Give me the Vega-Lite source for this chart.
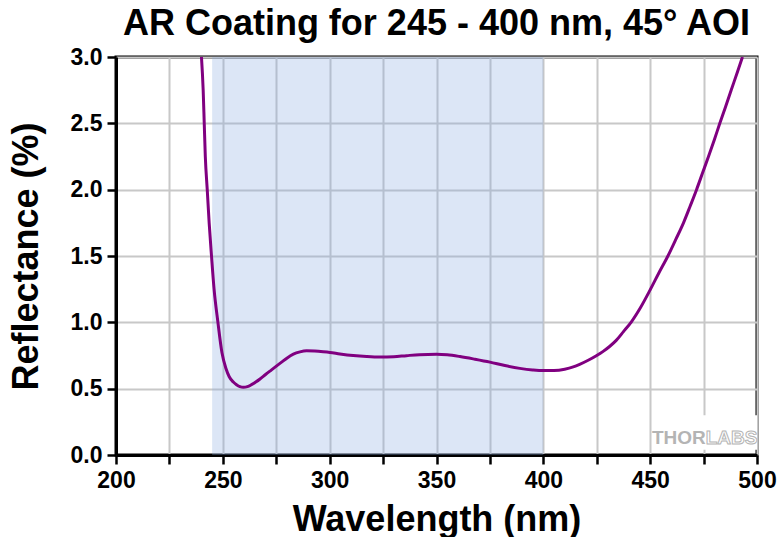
{
  "$schema": "https://vega.github.io/schema/vega-lite/v6.json",
  "width": 641,
  "height": 398,
  "autosize": {"type": "none"},
  "padding": {"left": 116, "top": 57, "right": 23, "bottom": 82},
  "background": "white",
  "title": {
    "text": "AR Coating for 245 - 400 nm, 45° AOI",
    "font": "Liberation Sans",
    "fontSize": 36,
    "fontWeight": "bold",
    "color": "black",
    "anchor": "middle",
    "frame": "group",
    "offset": 3
  },
  "config": {
    "view": {"stroke": "black", "strokeWidth": 3},
    "axis": {
      "grid": true,
      "gridColor": "#c8c8c8",
      "gridWidth": 2,
      "domainColor": "black",
      "domainWidth": 3,
      "tickColor": "black",
      "tickWidth": 2.5,
      "tickSize": 9,
      "labelFont": "Liberation Sans",
      "labelFontSize": 23,
      "labelFontWeight": "bold",
      "labelColor": "black",
      "labelFlush": false,
      "labelOverlap": false,
      "titleFont": "Liberation Sans",
      "titleFontSize": 36,
      "titleFontWeight": "bold",
      "titleColor": "black"
    }
  },
  "datasets": {
    "curve": [
      {"wl": 240.0, "r": 3.0},
      {"wl": 240.8, "r": 2.75},
      {"wl": 241.3, "r": 2.5},
      {"wl": 241.8, "r": 2.25},
      {"wl": 242.7, "r": 2.0},
      {"wl": 243.6, "r": 1.75},
      {"wl": 244.7, "r": 1.5},
      {"wl": 245.9, "r": 1.25},
      {"wl": 247.7, "r": 1.0},
      {"wl": 249.6, "r": 0.77},
      {"wl": 251.5, "r": 0.65},
      {"wl": 253.0, "r": 0.59},
      {"wl": 254.9, "r": 0.55},
      {"wl": 256.4, "r": 0.53},
      {"wl": 258.0, "r": 0.515},
      {"wl": 259.6, "r": 0.51},
      {"wl": 261.5, "r": 0.515},
      {"wl": 263.4, "r": 0.53},
      {"wl": 265.4, "r": 0.55},
      {"wl": 267.4, "r": 0.573},
      {"wl": 270.0, "r": 0.607},
      {"wl": 272.8, "r": 0.642},
      {"wl": 275.2, "r": 0.672},
      {"wl": 277.5, "r": 0.70},
      {"wl": 279.8, "r": 0.728},
      {"wl": 283.0, "r": 0.76},
      {"wl": 286.1, "r": 0.777},
      {"wl": 289.2, "r": 0.785},
      {"wl": 293.0, "r": 0.783},
      {"wl": 297.0, "r": 0.778},
      {"wl": 300.1, "r": 0.773},
      {"wl": 304.8, "r": 0.762},
      {"wl": 311.0, "r": 0.75},
      {"wl": 317.3, "r": 0.742},
      {"wl": 323.5, "r": 0.738},
      {"wl": 330.0, "r": 0.741},
      {"wl": 336.0, "r": 0.749},
      {"wl": 342.0, "r": 0.756},
      {"wl": 350.0, "r": 0.759},
      {"wl": 355.0, "r": 0.755},
      {"wl": 361.0, "r": 0.742},
      {"wl": 368.0, "r": 0.722},
      {"wl": 375.0, "r": 0.70},
      {"wl": 382.0, "r": 0.674},
      {"wl": 389.0, "r": 0.653},
      {"wl": 395.0, "r": 0.641},
      {"wl": 400.0, "r": 0.636},
      {"wl": 405.0, "r": 0.637},
      {"wl": 410.0, "r": 0.647},
      {"wl": 414.0, "r": 0.664},
      {"wl": 417.0, "r": 0.683},
      {"wl": 421.0, "r": 0.714},
      {"wl": 425.0, "r": 0.75},
      {"wl": 428.0, "r": 0.781},
      {"wl": 431.0, "r": 0.818},
      {"wl": 434.0, "r": 0.862},
      {"wl": 437.5, "r": 0.93},
      {"wl": 441.3, "r": 1.006},
      {"wl": 445.5, "r": 1.112},
      {"wl": 450.0, "r": 1.245},
      {"wl": 454.0, "r": 1.37},
      {"wl": 458.3, "r": 1.5},
      {"wl": 462.0, "r": 1.625},
      {"wl": 465.6, "r": 1.75},
      {"wl": 468.7, "r": 1.875},
      {"wl": 471.7, "r": 2.0},
      {"wl": 474.5, "r": 2.125},
      {"wl": 477.3, "r": 2.25},
      {"wl": 480.0, "r": 2.375},
      {"wl": 482.6, "r": 2.5},
      {"wl": 485.3, "r": 2.625},
      {"wl": 487.9, "r": 2.75},
      {"wl": 490.6, "r": 2.875},
      {"wl": 493.2, "r": 3.0}
    ],
    "band": [{"start": 245, "end": 400}],
    "logobox": [{"x1": 452, "x2": 500, "y1": 0.04, "y2": 0.30}],
    "logo1": [{"wl": 476, "r": 0.085, "t": "THOR"}],
    "logo2": [{"wl": 476, "r": 0.085, "t": "LABS"}]
  },
  "layer": [
    {
      "data": {"name": "band"},
      "mark": {"type": "rect", "color": "#8aace1", "opacity": 0.3},
      "encoding": {
        "x": {
          "field": "start",
          "type": "quantitative",
          "scale": {"domain": [200, 500], "nice": false, "zero": false},
          "axis": {
            "title": "Wavelength (nm)",
            "values": [200, 225, 250, 275, 300, 325, 350, 375, 400, 425, 450, 475, 500],
            "format": "d",
            "labelExpr": "datum.value % 50 === 0 ? datum.label : ''",
            "labelPadding": 5,
            "titlePadding": 10,
            "encode": {"ticks": {"update": {"y2": {"signal": "datum.value % 50 === 0 ? 9 : 5"}}}}
          }
        },
        "x2": {"field": "end"},
        "y": {"datum": 0, "type": "quantitative",
          "scale": {"domain": [0, 3], "nice": false, "zero": false},
          "axis": {
            "title": "Reflectance (%)",
            "values": [0, 0.25, 0.5, 0.75, 1, 1.25, 1.5, 1.75, 2, 2.25, 2.5, 2.75, 3],
            "format": ".1f",
            "labelExpr": "datum.value % 0.5 === 0 ? datum.label : ''",
            "labelPadding": 5,
            "titlePadding": 25,
            "encode": {"ticks": {"update": {"x2": {"signal": "datum.value % 0.5 === 0 ? -9 : -5"}}}}
          }
        },
        "y2": {"datum": 3}
      }
    },
    {
      "data": {"name": "logobox"},
      "mark": {"type": "rect", "color": "white"},
      "encoding": {
        "x": {"field": "x1", "type": "quantitative"},
        "x2": {"field": "x2"},
        "y": {"field": "y1", "type": "quantitative"},
        "y2": {"field": "y2"}
      }
    },
    {
      "data": {"name": "curve"},
      "mark": {"type": "line", "color": "#800080", "strokeWidth": 3, "clip": true, "interpolate": "monotone"},
      "encoding": {
        "x": {"field": "wl", "type": "quantitative"},
        "y": {"field": "r", "type": "quantitative"}
      }
    },
    {
      "data": {"name": "logo1"},
      "mark": {"type": "text", "align": "right", "baseline": "alphabetic", "font": "Liberation Sans Narrow, Liberation Sans", "fontSize": 19, "fontWeight": "bold", "color": "#b4b4b4"},
      "encoding": {
        "x": {"field": "wl", "type": "quantitative"},
        "y": {"field": "r", "type": "quantitative"},
        "text": {"field": "t"}
      }
    },
    {
      "data": {"name": "logo2"},
      "mark": {"type": "text", "align": "left", "baseline": "alphabetic", "font": "Liberation Sans Narrow, Liberation Sans", "fontSize": 19, "fontWeight": "bold", "fill": "white", "stroke": "#b4b4b4", "strokeWidth": 1},
      "encoding": {
        "x": {"field": "wl", "type": "quantitative"},
        "y": {"field": "r", "type": "quantitative"},
        "text": {"field": "t"}
      }
    }
  ]
}
